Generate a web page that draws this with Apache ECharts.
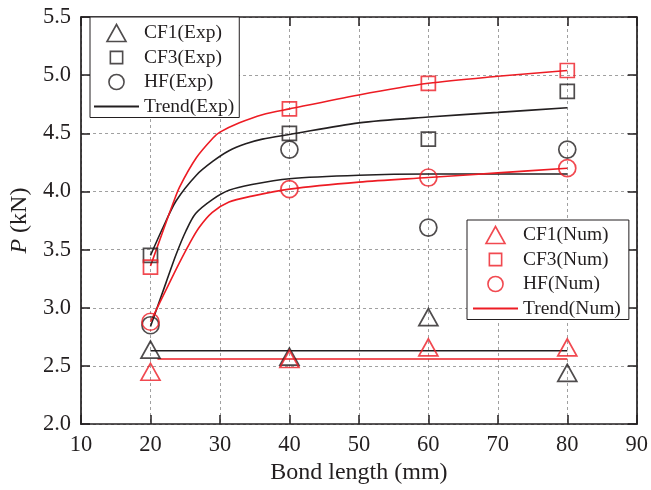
<!DOCTYPE html>
<html>
<head>
<meta charset="utf-8">
<script src="https://cdn.jsdelivr.net/npm/echarts@6/dist/echarts.min.js"></script>
<style>html,body{margin:0;padding:0;background:#fff}#c{width:651px;height:490px}</style>
</head>
<body>
<div id="c"></div>
<script>
// ---- data ----
var xPoints = [20, 40, 60, 80];
var cf1Exp = [2.64, 2.58, 2.92, 2.44];
var cf3Exp = [3.45, 4.50, 4.45, 4.86];
var hfExp  = [2.85, 4.36, 3.69, 4.36];
var cf1Num = [2.45, 2.56, 2.66, 2.66];
var cf3Num = [3.35, 4.71, 4.93, 5.04];
var hfNum  = [2.88, 4.02, 4.12, 4.20];

// trend curves
var trendCf3ExpX = [20, 21.8, 23.7, 26.6, 29, 31.3, 33.7, 36.1, 40, 50, 60, 70, 80];
var trendCf3ExpY = [3.45, 3.69, 3.92, 4.14, 4.26, 4.35, 4.41, 4.45, 4.49, 4.59, 4.64, 4.68, 4.72];
var trendHfExpX  = [20, 22.2, 23.7, 25.1, 26.5, 28.9, 31.3, 34.6, 40, 50, 60, 70, 80];
var trendHfExpY  = [2.84, 3.21, 3.46, 3.66, 3.81, 3.93, 4.01, 4.06, 4.11, 4.14, 4.15, 4.15, 4.15];
var trendCf3NumX = [20, 21.8, 23.2, 24.2, 26.6, 29, 30, 32.8, 36.1, 40, 50, 60, 70, 80];
var trendCf3NumY = [3.36, 3.66, 3.89, 4.04, 4.29, 4.46, 4.51, 4.59, 4.66, 4.71, 4.83, 4.93, 4.99, 5.04];
var trendHfNumX  = [20, 22.2, 24.1, 25.6, 27, 28.9, 31.3, 34.6, 40, 50, 60, 70, 80];
var trendHfNumY  = [2.88, 3.15, 3.38, 3.55, 3.69, 3.82, 3.91, 3.96, 4.02, 4.08, 4.12, 4.16, 4.20];
var trendCf1ExpX = [20, 80];
var trendCf1ExpY = [2.63, 2.63];
var trendCf1NumX = [21, 80];
var trendCf1NumY = [2.56, 2.56];

var xTicks = { min: 10, max: 90, step: 10 };
var yTicks = { min: 2.0, max: 5.5, step: 0.5 };

// ---- styles ----
var BLACK = '#231f20';
var RED = '#ed1c24';
var FONT = 'Liberation Serif';

function pairs(xs, ys) { return xs.map(function (x, i) { return [x, ys[i]]; }); }

var ICON_TRI = 'path://M9.5,0L19,17L0,17Z';
var ICON_RECT = 'path://M0,0M18,18M2.5,2.5L15.5,2.5L15.5,15.5L2.5,15.5Z';
var ICON_CIRC = 'path://M0,0M18,18M1,9A8,8,0,1,1,17,9A8,8,0,1,1,1,9Z';

function scatter(name, ys, color, symbol, size) {
  return {
    type: 'scatter', name: name, data: pairs(xPoints, ys),
    symbol: symbol, symbolSize: size, z: 5,
    itemStyle: { color: 'rgba(0,0,0,0)', borderColor: color, borderWidth: 1.7 },
    emphasis: { disabled: true }
  };
}
function trend(name, xs, ys, color) {
  return {
    type: 'line', name: name, data: pairs(xs, ys), symbol: 'none',
    smooth: 0.3, z: 4,
    lineStyle: { color: color, width: 1.6 }, itemStyle: { color: color },
    emphasis: { disabled: true }
  };
}

var axisCommon = {
  axisLine: { show: true, onZero: false, lineStyle: { color: BLACK, width: 1.7 } },
  axisTick: { show: true, inside: true, length: 9, lineStyle: { color: BLACK, width: 1.5 } },
  axisLabel: { color: BLACK, fontFamily: FONT, fontSize: 22.5 }
};

var legendCommon = {
  orient: 'vertical', itemWidth: 45, itemHeight: 17, itemGap: 4.5,
  backgroundColor: '#fff', borderColor: BLACK, borderWidth: 1,
  textStyle: { color: BLACK, fontFamily: FONT, fontSize: 19.5, lineHeight: 20 },
  itemStyle: { borderWidth: 1.6 },
  selectedMode: false
};
var hiddenDot = { color: 'rgba(0,0,0,0)', borderWidth: 0, opacity: 0 };

var option = {
  animation: false,
  backgroundColor: '#fff',
  grid: { left: 80, right: 12, top: 17, bottom: 64, containLabel: false },
  legend: [
    Object.assign({}, legendCommon, {
      left: 90, top: 17, padding: [6, 5, 1, 3],
      data: [
        { name: 'CF1(Exp)', icon: ICON_TRI },
        { name: 'CF3(Exp)', icon: ICON_RECT },
        { name: 'HF(Exp)', icon: ICON_CIRC },
        { name: 'Trend(Exp)', itemStyle: hiddenDot }
      ]
    }),
    Object.assign({}, legendCommon, {
      left: 467, top: 220, padding: [5, 8, 1, 5],
      data: [
        { name: 'CF1(Num)', icon: ICON_TRI },
        { name: 'CF3(Num)', icon: ICON_RECT },
        { name: 'HF(Num)', icon: ICON_CIRC },
        { name: 'Trend(Num)', itemStyle: hiddenDot }
      ]
    })
  ],
  xAxis: [
    Object.assign({}, axisCommon, {
      type: 'value', position: 'bottom', min: xTicks.min, max: xTicks.max, interval: xTicks.step,
      name: 'Bond length (mm)', nameLocation: 'middle', nameGap: 35,
      nameTextStyle: { color: BLACK, fontFamily: FONT, fontSize: 24 },
      axisLabel: { color: BLACK, fontFamily: FONT, fontSize: 22.5, margin: 9 },
      splitLine: { show: true, lineStyle: { color: '#a0a0a0', width: 1, type: [3, 3] } }
    }),
    Object.assign({}, axisCommon, {
      type: 'value', position: 'top', min: xTicks.min, max: xTicks.max, interval: xTicks.step,
      axisLabel: { show: false }, splitLine: { show: false }
    })
  ],
  yAxis: [
    Object.assign({}, axisCommon, {
      type: 'value', position: 'left', min: yTicks.min, max: yTicks.max, interval: yTicks.step,
      name: '{i|P} (kN)', nameLocation: 'middle', nameGap: 47, nameRotate: 90,
      nameTextStyle: {
        color: BLACK, fontFamily: FONT, fontSize: 24,
        rich: { i: { fontStyle: 'italic', fontFamily: FONT, fontSize: 24, color: BLACK } }
      },
      axisLabel: { color: BLACK, fontFamily: FONT, fontSize: 22.5, margin: 10,
        formatter: function (v) { return v.toFixed(1); } },
      splitLine: { show: true, lineStyle: { color: '#a0a0a0', width: 1, type: [3, 3] } }
    }),
    Object.assign({}, axisCommon, {
      type: 'value', position: 'right', min: yTicks.min, max: yTicks.max, interval: yTicks.step,
      axisLabel: { show: false }, splitLine: { show: false }
    })
  ],
  series: [
    trend('Trend(Exp)', trendCf3ExpX, trendCf3ExpY, BLACK),
    trend('Trend(Exp)', trendHfExpX, trendHfExpY, BLACK),
    trend('Trend(Exp)', trendCf1ExpX, trendCf1ExpY, BLACK),
    trend('Trend(Num)', trendCf3NumX, trendCf3NumY, RED),
    trend('Trend(Num)', trendHfNumX, trendHfNumY, RED),
    trend('Trend(Num)', trendCf1NumX, trendCf1NumY, RED),
    scatter('CF1(Exp)', cf1Exp, BLACK, 'triangle', [19, 17]),
    scatter('CF3(Exp)', cf3Exp, BLACK, 'rect', 14),
    scatter('HF(Exp)', hfExp, BLACK, 'circle', 17),
    scatter('CF1(Num)', cf1Num, RED, 'triangle', [19, 17]),
    scatter('CF3(Num)', cf3Num, RED, 'rect', 14),
    scatter('HF(Num)', hfNum, RED, 'circle', 17)
  ]
};

var chart = echarts.init(document.getElementById('c'), null, { renderer: 'canvas' });
chart.setOption(option);
</script>
</body>
</html>
